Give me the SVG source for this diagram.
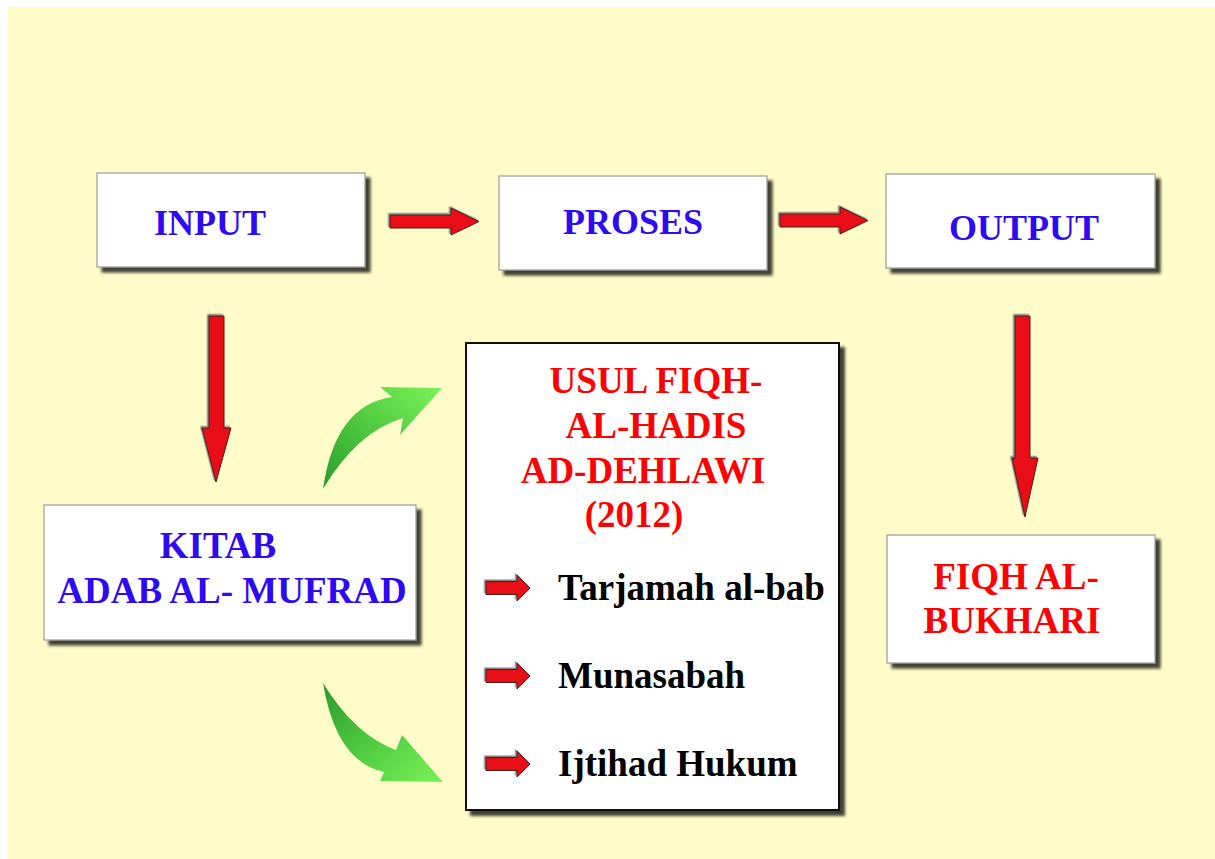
<svg xmlns="http://www.w3.org/2000/svg" width="1215" height="859" viewBox="0 0 1215 859">
<style>
.box{fill:#fff;stroke:#9a9a9a;stroke-width:1.2;filter:url(#sh)}
.main{fill:#fff;stroke:#111;stroke-width:2;filter:url(#sh)}
.t{font-family:"Liberation Serif","Times New Roman",serif;font-weight:bold;font-size:37px;text-anchor:middle}
.blue{fill:#2d0af2}
.red{fill:#ff0000}
.blk{fill:#000;text-anchor:start}
.ra{fill:#e80f14;stroke:#4a1a1a;stroke-width:1;filter:url(#rs)}
</style>
<defs>
<filter id="sh" x="-10%" y="-10%" width="130%" height="130%">
<feDropShadow dx="5" dy="5" stdDeviation="1.5" flood-color="#2f2f22" flood-opacity="0.9"/>
</filter>
<filter id="rs" x="-20%" y="-20%" width="140%" height="140%">
<feDropShadow dx="-1.5" dy="-1.5" stdDeviation="0.6" flood-color="#777" flood-opacity="0.9"/>
</filter>
<linearGradient id="gu" x1="0" y1="1" x2="1" y2="0">
<stop offset="0" stop-color="#2a9a2e"/>
<stop offset="0.45" stop-color="#4cc63e"/>
<stop offset="1" stop-color="#7af25a"/>
</linearGradient>
<linearGradient id="gd" x1="0" y1="0" x2="1" y2="1">
<stop offset="0" stop-color="#2a9a2e"/>
<stop offset="0.45" stop-color="#4cc63e"/>
<stop offset="1" stop-color="#7af25a"/>
</linearGradient>
<path id="ba" d="M0,-6.5 L31,-6.5 L31,-13 L44,0 L31,13 L31,6.5 L0,6.5 Z"/>
</defs>
<rect x="0" y="0" width="1215" height="859" fill="#fff"/>
<rect x="8" y="7" width="1207" height="852" fill="#fffcca"/>

<g id="connectors">
<path class="ra" d="M390,215 L451,215 L451,208 L479,221.5 L451,235 L451,228 L390,228 Z"/>
<path class="ra" d="M780,214 L840,214 L840,207 L868,220.5 L840,234 L840,227 L780,227 Z"/>
<path class="ra" d="M209,316 L224,316 L224,428 L231,428 L216,482 L202,428 L209,428 Z"/>
<path class="ra" d="M1015,316 L1030,316 L1030,458 L1038,458 L1025,517 L1012,458 L1015,458 Z"/>
<path fill="url(#gu)" d="M323,489 Q335,405 392,397 L380,387 L442,388 L400,435 L403,418 Q357,432 323,489 Z"/>
<path fill="url(#gd)" d="M323,683 Q355,735 396,750 L402,735 L443,782 L380,781 L384,772 Q336,762 323,683 Z"/>
</g>

<g id="input">
<rect class="box" x="97" y="173" width="268" height="94"/>
<text class="t blue" x="210" y="235" style="font-size:36px">INPUT</text>
</g>
<g id="proses">
<rect class="box" x="499" y="176" width="268" height="94"/>
<text class="t blue" x="633" y="234" style="font-size:36px">PROSES</text>
</g>
<g id="output">
<rect class="box" x="886" y="174" width="269" height="94"/>
<text class="t blue" x="1024" y="240" style="font-size:36px">OUTPUT</text>
</g>
<g id="kitab">
<rect class="box" x="44" y="505" width="372" height="135"/>
<text class="t blue" x="218" y="558">KITAB</text>
<text class="t blue" x="232" y="603">ADAB AL- MUFRAD</text>
</g>
<g id="usul">
<rect class="main" x="466" y="343" width="373" height="467"/>
<text class="t red" x="656" y="393">USUL FIQH-</text>
<text class="t red" x="656" y="438">AL-HADIS</text>
<text class="t red" x="643" y="483">AD-DEHLAWI</text>
<text class="t red" x="634" y="527">(2012)</text>
<use href="#ba" class="ra" x="486" y="588"/>
<text class="t blk" x="558" y="600">Tarjamah al-bab</text>
<use href="#ba" class="ra" x="486" y="676"/>
<text class="t blk" x="558" y="688">Munasabah</text>
<use href="#ba" class="ra" x="486" y="764"/>
<text class="t blk" x="558" y="776">Ijtihad Hukum</text>
</g>
<g id="fiqh">
<rect class="box" x="887" y="535" width="268" height="128"/>
<text class="t red" x="1016" y="589">FIQH AL-</text>
<text class="t red" x="1012" y="633">BUKHARI</text>
</g>
</svg>
